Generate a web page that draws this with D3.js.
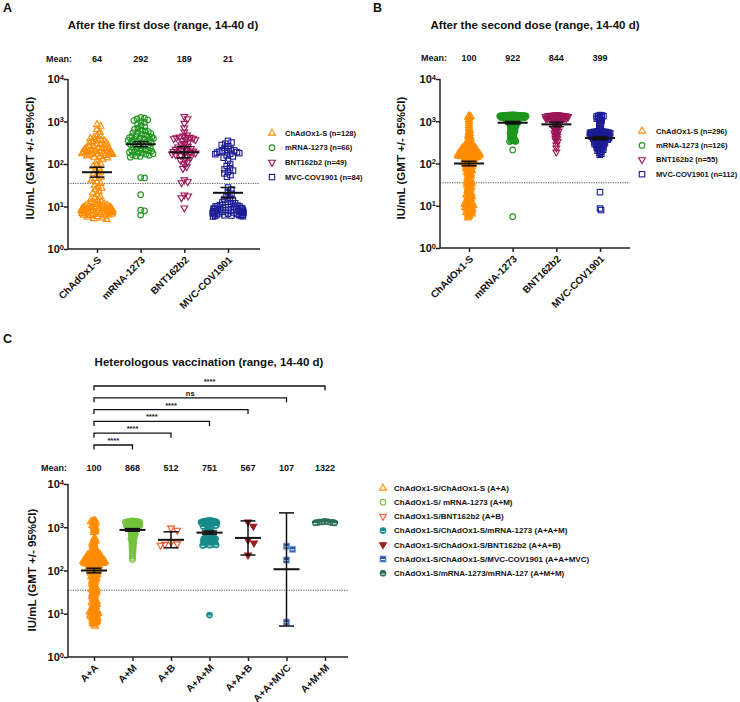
<!DOCTYPE html>
<html><head><meta charset="utf-8">
<script src="https://cdn.jsdelivr.net/npm/d3@7"></script>
<style>
body{margin:0;background:#fff}
text{font-family:"Liberation Sans",Arial,Helvetica,sans-serif;font-weight:bold;fill:#111}
</style>
</head><body><script>
// ---------------- DATA ----------------
const yTicks = [1, 10, 100, 1000, 10000];
const threshold = 35;

const catsAB = ["ChAdOx1-S", "mRNA-1273", "BNT162b2", "MVC-COV1901"];
const legendA = ["ChAdOx1-S (n=128)", "mRNA-1273 (n=66)", "BNT162b2 (n=49)", "MVC-COV1901 (n=84)"];
const legendB = ["ChAdOx1-S (n=296)", "mRNA-1273 (n=126)", "BNT162b2 (n=55)", "MVC-COV1901 (n=112)"];
const meanA = [64, 292, 189, 21];
const ciLoA = [49, 255, 140, 16];
const ciHiA = [84, 335, 255, 28];
const meanB = [100, 922, 844, 399];
const ciLoB = [88, 860, 745, 365];
const ciHiB = [113, 990, 955, 435];

const catsC = ["A+A", "A+M", "A+B", "A+A+M", "A+A+B", "A+A+MVC", "A+M+M"];
const legendC = ["ChAdOx1-S/ChAdOx1-S (A+A)", "ChAdOx1-S/ mRNA-1273 (A+M)", "ChAdOx1-S/BNT162b2 (A+B)",
  "ChAdOx1-S/ChAdOx1-S/mRNA-1273 (A+A+M)", "ChAdOx1-S/ChAdOx1-S/BNT162b2 (A+A+B)",
  "ChAdOx1-S/ChAdOx1-S/MVC-COV1901 (A+A+MVC)", "ChAdOx1-S/mRNA-1273/mRNA-127 (A+M+M)"];
const meanC = [100, 868, 512, 751, 567, 107, 1322];
const ciLoC = [88, 810, 335, 690, 228, 5.2, 1270];
const ciHiC = [113, 930, 785, 820, 1400, 2150, 1375];
const sigTo = ["A+M", "A+B", "A+A+M", "A+A+B", "A+A+MVC", "A+M+M"];
const sigLabel = ["****", "****", "****", "****", "ns", "****"];

// Panel A individual values
const A_chad = [850,780,650,560,480,450,420,400,380,360,350,340,320,310,300,290,280,270,260,250,245,240,235,230,225,220,215,210,205,200,198,195,192,190,187,185,182,180,178,175,172,170,168,165,160,155,150,145,140,130,
  118,105,95,88,80,72,65,60,55,50,46,42,38,35,32,29,27,25,23,21,19,17,16,15,14,
  13,12.5,12,11.5,11.2,11,10.8,10.5,10.2,10,10,9.8,9.6,9.5,9.4,9.2,9,9,8.9,8.8,8.7,8.6,8.5,8.4,8.3,8.2,8.1,8,8,7.9,7.8,7.7,7.6,7.5,7.4,7.3,7.2,7.1,7,6.9,6.8,6.7,6.6,6.5,6.4,6.3,6.2,6,5.8,5.6,5.4,5.2,5.0];
const A_mrna = [1250,1200,1150,1100,1050,1000,950,880,800,750,700,650,620,600,580,560,540,520,500,480,460,450,440,430,420,410,400,390,380,370,360,350,340,330,320,310,300,290,280,270,260,250,240,230,220,215,210,205,200,195,190,185,180,175,170,165,160,155,150,145,
  48,47,19,8.2,7.9,6.3];
const A_bnt = [1300,1150,900,700,560,480,450,430,420,410,400,390,380,370,350,330,300,280,260,250,240,230,220,210,205,200,195,190,185,180,175,170,165,160,150,140,125,120,110,100,85,78,42,38,36,18.5,17.5,16,9.2];
const A_mvc = [350,320,300,280,260,240,220,210,200,200,195,190,185,180,175,170,160,150,140,
  120,100,90,80,75,70,65,60,55,50,
  28,25,22,20,18,16,15,14,13,
  12.5,12,11.5,11,10.8,10.5,10.2,10,10,9.8,9.6,9.4,9.2,9,9,8.8,8.6,8.5,8.4,8.2,8,8,7.9,7.8,7.7,7.6,7.5,7.4,7.3,7.2,7.1,7,7,6.9,6.8,6.7,6.6,6.5,6.4,6.3,6.2,6.1,6,6,5.9,5.8];

// Panel B individual values
const B_chad = [1350,1300,1250,1200,1100,1000,900,800,720,650,600,560,520,490,460,440,420,400,380,360,345,330,315,300,
  290,285,280,275,270,265,260,255,250,
  248,245,242,240,238,235,232,230,228,225,222,220,218,215,212,210,208,205,202,200,200,198,196,194,192,190,188,186,184,182,180,179,178,177,176,175,174,173,172,171,170,169,168,167,166,165,164,163,162,161,160,159,158,157,156,155,154,153,152,151,150,149,148,147,146,145,144,142,140,
  138,136,134,132,130,128,126,124,122,120,118,116,114,112,110,108,106,104,102,100,
  98,96,94,92,90,88,86,84,82,80,78,76,74,72,70,68,66,64,62,60,58,56,54,52,50,48,46,44,42,40,
  39,38,37,36,35,34,33,32,31,30,29,28,27,26,25,24,23,22,21,20,19.5,19,18.5,18,17.5,17,16.5,16,15.5,15,
  14.5,14,13.5,13,12.5,12,11.8,11.6,11.4,11.2,11,10.8,10.6,10.4,10.2,10,9.8,9.6,9.4,9.2,9,8.8,8.6,8.4,8.2,8,7.8,7.6,7.4,7.2,7,6.8,6.6,6.4,6.2,6,5.6,5.2];
const B_mrna = [1420,1415,1410,1405,1400,1395,1390,1385,1380,1375,1370,1365,1360,1355,1350,1345,1340,1335,1330,1325,1320,1315,1310,1305,1300,1295,1290,1285,1280,1275,1270,1265,1260,1255,1250,1245,1240,1235,1230,1225,1220,1210,1200,1190,1180,1170,1160,1150,1140,1130,1120,1110,1100,1090,1080,1070,1060,1050,1040,1030,1020,1010,1000,990,980,970,960,950,1400,1380,1360,1340,1320,1300,1280,
  930,910,890,870,850,830,810,790,770,750,730,710,690,670,650,630,610,590,570,550,530,510,490,470,450,430,410,390,370,350,900,840,780,720,660,600,540,480,420,380,360,345,340,335,330,
  210,5.5];
const B_bnt = [1420,1410,1400,1380,1370,1360,1350,1340,1330,1320,1300,1290,1280,1270,1260,1250,1240,1230,1220,1200,1190,1180,1170,1160,1150,1140,1120,1100,
  1050,1000,960,920,880,850,820,790,760,730,700,670,640,610,580,550,520,490,460,430,400,380,350,330,
  270,230,185];
const B_mvc = [1400,1380,1350,1320,1300,1260,1220,1180,1150,1100,1050,1000,950,900,850,800,750,700,650,610,
  580,575,570,565,560,555,550,545,540,535,530,525,520,515,510,505,500,495,490,485,480,475,470,465,460,455,450,445,440,435,430,425,420,415,410,405,400,395,390,385,380,375,370,365,360,355,350,345,340,335,330,325,320,315,310,305,560,540,520,500,480,460,440,420,400,380,
  300,295,290,285,280,275,270,265,260,250,245,240,235,230,225,220,210,205,200,190,180,170,160,
  21,8.6,7.9];

// Panel C individual values
const C_aa = [1450,1400,1380,1350,1300,1250,1200,1150,1100,1050,1000,950,900,850,800,760,
  560,530,500,470,450,430,410,390,370,350,335,320,305,290,280,270,260,250,
  248,245,242,240,238,235,232,230,228,225,222,220,218,215,212,210,208,205,202,200,200,198,196,194,192,190,188,186,184,182,180,179,178,177,176,175,174,173,172,171,170,169,168,167,166,165,164,163,162,161,160,159,158,157,156,155,154,153,152,151,150,149,148,147,146,145,144,142,140,
  138,136,134,132,130,128,126,124,122,120,118,116,114,112,110,108,106,104,102,100,
  98,96,94,92,90,88,86,84,82,80,78,76,74,72,70,68,66,64,62,60,58,56,54,52,50,48,46,44,42,40,
  39,38,37,36,35,34,33,32,31,30,29,28,27,26,25,24,23,22,21,20,19.5,19,18.5,18,17.5,17,16.5,16,15.5,15,
  14.5,14,13.5,13,12.5,12,11.8,11.6,11.4,11.2,11,10.8,10.6,10.4,10.2,10,9.8,9.6,9.4,9.2,9,8.8,8.6,8.4,8.2,8,7.8,7.6,7.4,7.2,7,6.8,6.6,6.4,6.2,6,5.6,5.2];
const C_am = [1400,1390,1380,1370,1360,1350,1340,1330,1320,1310,1300,1290,1280,1270,1260,1250,1240,1230,1220,1210,1200,1190,1180,1170,1160,1150,1140,1130,1120,1110,1100,1090,1080,1070,1060,1050,1040,1030,1020,1000,
  980,950,920,900,880,860,840,820,800,780,760,740,720,700,680,660,640,620,600,580,560,540,520,500,480,460,440,420,400,380,360,340,320,300,280,260,240,220,200,180];
const C_ab = [950, 850, 450, 410, 400, 380];
const C_aam = [1450,1420,1400,1380,1360,1340,1320,1300,1280,1260,1240,1220,1200,1180,1160,1140,1120,1100,1080,1060,1040,1020,1000,1400,1350,1300,1250,1200,1150,1100,
  950,900,850,800,760,720,680,640,
  600,590,580,570,560,550,540,530,520,510,500,490,480,470,460,450,440,430,420,410,400,395,390,385,380,550,500,450,420,400,
  9.3];
const C_aab = [1310, 1050, 500, 430, 225];
const C_aamvc = [365, 310, 175, 6.4];
const C_amm = [1360, 1340, 1330, 1320, 1300, 1290, 1280, 1270, 1260];

// ---------------- DRAWING ----------------
const svg = d3.select("body").append("svg").attr("width", 740).attr("height", 702);

function drawMarker(g, type, color, x, y) {
  const sw = 1.1;
  if (type === "triUp") {
    g.append("path").attr("d", `M${x},${y-3.8}L${x+3.4},${y+2.1}L${x-3.4},${y+2.1}Z`)
      .attr("fill", "none").attr("stroke", color).attr("stroke-width", sw);
  } else if (type === "triDown" || type === "triDownFill") {
    g.append("path").attr("d", `M${x},${y+3.8}L${x+3.4},${y-2.1}L${x-3.4},${y-2.1}Z`)
      .attr("fill", type === "triDownFill" ? color : "none").attr("stroke", color).attr("stroke-width", sw);
  } else if (type === "circle") {
    g.append("circle").attr("cx", x).attr("cy", y).attr("r", 2.8)
      .attr("fill", "none").attr("stroke", color).attr("stroke-width", sw);
  } else if (type === "square") {
    g.append("rect").attr("x", x-2.7).attr("y", y-2.7).attr("width", 5.4).attr("height", 5.4)
      .attr("fill", "none").attr("stroke", color).attr("stroke-width", sw);
  } else if (type === "circleHalf") {
    g.append("circle").attr("cx", x).attr("cy", y).attr("r", 3.1).attr("fill", color).attr("stroke", color).attr("stroke-width", 0.6);
    g.append("line").attr("x1", x-1.8).attr("x2", x+1.8).attr("y1", y+0.9).attr("y2", y+0.9).attr("stroke", "#fff").attr("stroke-width", 0.9);
  } else if (type === "squareHalf") {
    g.append("rect").attr("x", x-3).attr("y", y-3).attr("width", 6).attr("height", 6)
      .attr("fill", color).attr("stroke", "#7fa3d6").attr("stroke-width", 0.8);
    g.append("line").attr("x1", x-2).attr("x2", x+2).attr("y1", y+0.6).attr("y2", y+0.6).attr("stroke", "#fff").attr("stroke-width", 1);
  }
}

function swarm(vals, y, d, M) {
  const pts = vals.map(v => ({ v, y: y(v) })).sort((a, b) => a.y - b.y);
  const placed = [];
  for (const p of pts) {
    const near = placed.filter(q => Math.abs(q.y - p.y) < d);
    const cands = [0];
    for (const q of near) {
      const dx = Math.sqrt(d * d - (q.y - p.y) ** 2);
      cands.push(q.x + dx, q.x - dx);
    }
    cands.sort((a, b) => Math.abs(a) - Math.abs(b));
    p.x = cands[cands.length - 1];
    for (const c of cands) {
      if (near.every(q => (q.x - c) ** 2 + (q.y - p.y) ** 2 >= d * d - 1e-6)) { p.x = c; break; }
    }
    placed.push(p);
  }
  placed.forEach(p => { p.px = M * Math.tanh(p.x / M); });
  return placed;
}

function panel(o) {
  const y = d3.scaleLog().domain([1, 1e4]).range([o.yBot, o.yTop]);
  const x = d3.scalePoint().domain(o.cats).range([o.cx0, o.cx1]);
  const g = svg.append("g");

  g.append("text").attr("x", o.letterX).attr("y", o.letterY).attr("font-size", 12.5).text(o.letter);
  g.append("text").attr("x", o.titleX).attr("y", o.titleY).attr("text-anchor", "middle").attr("font-size", 11.5).text(o.title);

  g.append("line").attr("x1", o.x0).attr("x2", o.x1).attr("y1", y(threshold)).attr("y2", y(threshold))
    .attr("stroke", "#555").attr("stroke-width", 1).attr("stroke-dasharray", "1.2,1.2");

  const ya = g.append("g").attr("transform", `translate(${o.x0},0)`)
    .call(d3.axisLeft(y).tickValues(yTicks).tickSize(4).tickSizeOuter(0).tickFormat(() => ""));
  ya.select(".domain").remove();
  ya.selectAll(".tick line").attr("stroke", "#222").attr("stroke-width", 1.5);
  ya.selectAll(".tick text").each(function (d) {
    const t = d3.select(this);
    t.text(null).attr("x", -4).attr("dy", "0.35em").attr("font-size", 11);
    t.append("tspan").text("10");
    t.append("tspan").attr("dy", "-0.5em").attr("font-size", 7.5).text(Math.round(Math.log10(d)));
  });
  g.append("line").attr("x1", o.x0).attr("x2", o.x0).attr("y1", o.yTop).attr("y2", o.yBot).attr("stroke", "#222").attr("stroke-width", 1.5);

  const xa = g.append("g").attr("transform", `translate(0,${o.yBot})`)
    .call(d3.axisBottom(x).tickSize(4).tickSizeOuter(0));
  xa.select(".domain").remove();
  xa.selectAll(".tick line").attr("stroke", "#222").attr("stroke-width", 1.5);
  xa.selectAll(".tick text").attr("y", 0).attr("dy", "0.35em").attr("text-anchor", "end")
    .attr("transform", "translate(2,9) rotate(-45)").attr("font-size", 10);
  g.append("line").attr("x1", o.x0).attr("x2", o.x1).attr("y1", o.yBot).attr("y2", o.yBot).attr("stroke", "#222").attr("stroke-width", 1.5);

  g.append("text").attr("transform", `translate(${o.alX},${o.alY}) rotate(-90)`).attr("text-anchor", "middle")
    .attr("font-size", 11.5).text("IU/mL (GMT +/- 95%CI)");

  g.append("text").attr("x", o.meanLabelX).attr("y", o.meanY).attr("text-anchor", "middle").attr("font-size", 9).text("Mean:");
  o.cats.forEach((c, i) => {
    g.append("text").attr("x", x(c)).attr("y", o.meanY).attr("text-anchor", "middle").attr("font-size", 9).text(o.means[i]);
  });

  const gp = g.append("g"), gb = g.append("g"), gt = g.append("g");
  o.cats.forEach((c, i) => {
    const pts = swarm(o.groups[i], y, o.d[i], o.M);
    const target = (o.onTop && o.onTop.includes(i)) ? gt : gp;
    pts.forEach(p => drawMarker(target, o.types[i], o.colors[i], x(c) + p.px, p.y));
    const cx = x(c);
    const ln = (x1, x2, y1, y2, w) => gb.append("line").attr("x1", x1).attr("x2", x2).attr("y1", y1).attr("y2", y2).attr("stroke", "#111").attr("stroke-width", w);
    ln(cx, cx, y(o.lo[i]), y(o.hi[i]), 1.5);
    ln(cx - o.capHW, cx + o.capHW, y(o.lo[i]), y(o.lo[i]), 1.5);
    ln(cx - o.capHW, cx + o.capHW, y(o.hi[i]), y(o.hi[i]), 1.5);
    ln(cx - o.meanHW, cx + o.meanHW, y(o.means[i]), y(o.means[i]), 2);
  });

  o.legend.forEach((t, i) => {
    const ly = o.lgY0 + i * o.lgDy;
    drawMarker(g, o.types[i], o.colors[i], o.lgX, ly);
    g.append("text").attr("x", o.lgX + o.lgGap).attr("y", ly).attr("dy", "0.35em").attr("font-size", o.lgFont).text(t);
  });
  return { x, y, g };
}

const typesAB = ["triUp", "circle", "triDown", "square"];
const colorsAB = ["#ff8c00", "#1e961e", "#9c1456", "#1c1c94"];

panel({
  letter: "A", letterX: 3, letterY: 12, title: "After the first dose (range, 14-40 d)", titleX: 163, titleY: 29,
  x0: 68, x1: 260, yTop: 79, yBot: 249, cx0: 97, cx1: 228, cats: catsAB,
  groups: [A_chad, A_mrna, A_bnt, A_mvc], types: typesAB, colors: colorsAB,
  means: meanA, lo: ciLoA, hi: ciHiA, d: [4, 4, 4, 4], M: 16, meanHW: 15, capHW: 7.5,
  alX: 34, alY: 158, meanLabelX: 59, meanY: 62,
  legend: legendA, lgX: 272, lgY0: 133, lgDy: 14.7, lgGap: 13, lgFont: 7.6
});

panel({
  letter: "B", letterX: 373, letterY: 12, title: "After the second dose (range, 14-40 d)", titleX: 535, titleY: 29,
  x0: 440, x1: 630, yTop: 79, yBot: 248, cx0: 469, cx1: 600, cats: catsAB,
  groups: [B_chad, B_mrna, B_bnt, B_mvc], types: typesAB, colors: colorsAB,
  means: meanB, lo: ciLoB, hi: ciHiB, d: [1.8, 1.5, 2.2, 1.9], M: 16, meanHW: 15, capHW: 7.5,
  alX: 405, alY: 158, meanLabelX: 434, meanY: 61,
  legend: legendB, lgX: 642, lgY0: 131, lgDy: 14.4, lgGap: 14, lgFont: 7.6
});

const typesC = ["triUp", "circle", "triDown", "circleHalf", "triDownFill", "squareHalf", "circleHalf"];
const colorsC = ["#ff8c00", "#74c23c", "#f2542d", "#178a8a", "#9e1b1f", "#2b5aa8", "#2b6e58"];

const pc = panel({
  letter: "C", letterX: 3, letterY: 343, title: "Heterologous vaccination (range, 14-40 d)", titleX: 209, titleY: 366,
  x0: 68, x1: 348, yTop: 484, yBot: 657, cx0: 94, cx1: 325, cats: catsC,
  groups: [C_aa, C_am, C_ab, C_aam, C_aab, C_aamvc, C_amm], types: typesC, colors: colorsC,
  means: meanC, lo: ciLoC, hi: ciHiC, d: [1.8, 1.6, 7, 2, 7, 7, 3], M: 14, meanHW: 13, capHW: 7.5, onTop: [6],
  alX: 36, alY: 570, meanLabelX: 54, meanY: 471,
  legend: legendC, lgX: 383, lgY0: 488, lgDy: 14.2, lgGap: 11, lgFont: 8
});

sigTo.forEach((c, i) => {
  const by = 445 - i * 11.8;
  const xa = pc.x("A+A"), xb = pc.x(c);
  pc.g.append("path").attr("d", `M${xa},${by+4.5}V${by}H${xb}V${by+4.5}`).attr("fill", "none").attr("stroke", "#111").attr("stroke-width", 1.3);
  pc.g.append("text").attr("x", (xa + xb) / 2).attr("y", by - 2).attr("text-anchor", "middle").attr("font-size", 7.5).text(sigLabel[i]);
});
</script></body></html>
